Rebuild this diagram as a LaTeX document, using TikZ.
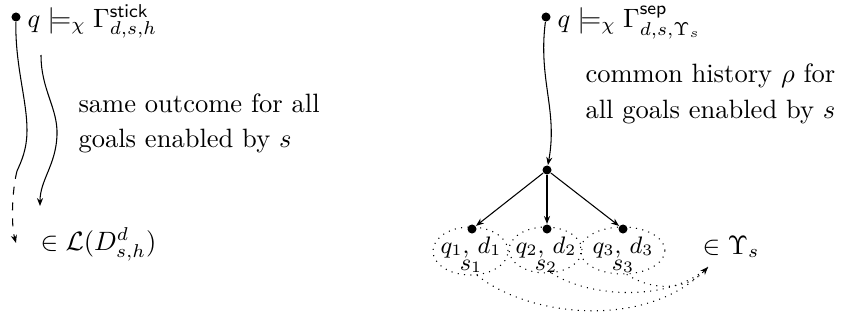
\documentclass[tikz,border=0pt]{standalone}
\usepackage{amsmath,amssymb}
\usetikzlibrary{arrows.meta,shapes.geometric}
\begin{document}
\begin{tikzpicture}[x=0.377pt,y=-0.377pt,
  dot/.style={circle,fill=black,inner sep=0pt,minimum size=3.4pt},
  txt/.style={inner sep=0pt,anchor=base west},
  ctxt/.style={inner sep=0pt,anchor=base,font=\small},
  ell/.style={ellipse,draw,dotted,inner sep=0pt},
  arr/.style={-{Stealth[length=3pt,width=2.3pt]}},
  darr/.style={dotted,-{Stealth[length=3pt,width=2.3pt]}}]
\useasboundingbox (0,0) rectangle (841,320);

% left part
\node[dot] (dl) at (16,17) {};
\node[txt] (tl) at (27,27) {$q \models_\chi \Gamma^{\mathsf{stick}}_{d,s,h}$};
\node[txt] (sl1) at (78,112) {same outcome for all};
\node[txt] (sl2) at (78,147) {goals enabled by $s$};
\node[txt] (ll) at (40,250) {$\in \mathcal{L}(D^d_{s,h})$};
\coordinate (k1) at (17,171);
\coordinate (k1e) at (16,243);
\coordinate (k2s) at (41,55);
\coordinate (k2e) at (40,206);
\draw (dl) .. controls (15,65) and (27,100) .. (27,130) .. controls (27,150) and (21,162) .. (k1);
\draw[arr,dashed] (k1) .. controls (12,190) and (11,225) .. (k1e);
\draw[arr] (k2s) .. controls (41,90) and (58,108) .. (57,135) .. controls (56,165) and (40,180) .. (k2e);

% right part
\node[dot] (dr) at (546,17) {};
\node[txt] (tr) at (557,27) {$q \models_\chi \Gamma^{\mathsf{sep}}_{d,s,\Upsilon_s}$};
\node[txt] (sr1) at (585,82) {common history $\rho$ for};
\node[txt] (sr2) at (585,118) {all goals enabled by $s$};
\node[dot] (c) at (547,170) {};
\draw[arr] (dr) .. controls (538,80) and (558,110) .. (c);

\node[ell,minimum width=28.3pt,minimum height=18.1pt] (e1) at (470.5,251) {};
\node[ell,minimum width=27.5pt,minimum height=17.3pt] (e2) at (545.5,250) {};
\node[ell,minimum width=32pt,minimum height=17.7pt] (e3) at (622.5,250.5) {};

\node[dot] (b1) at (472,229) {};
\node[dot] (b2) at (547,229) {};
\node[dot] (b3) at (623,229) {};
\draw[arr] (c) -- (b1);
\draw[arr] (c) -- (b2);
\draw[arr] (c) -- (b3);

\node[ctxt] (q1) at (471,253) {$q_1$, $d_1$};
\node[ctxt] (q2) at (546,253) {$q_2$, $d_2$};
\node[ctxt] (q3) at (623,253) {$q_3$, $d_3$};
\node[ctxt] (s1) at (471,270) {$s_1$};
\node[ctxt] (s2) at (546,270) {$s_2$};
\node[ctxt] (s3) at (623,270) {$s_3$};

\node[txt] (up) at (702,254) {$\in \Upsilon_s$};
\coordinate (ue) at (708,267);
\draw[dotted] (e1.-75) .. controls (530,318) and (650,330) .. (ue);
\draw[dotted] (e2.-75) .. controls (590,298) and (670,302) .. (ue);
\draw[darr] (e3.-80) .. controls (650,290) and (685,292) .. (ue);
\end{tikzpicture}
\end{document}
